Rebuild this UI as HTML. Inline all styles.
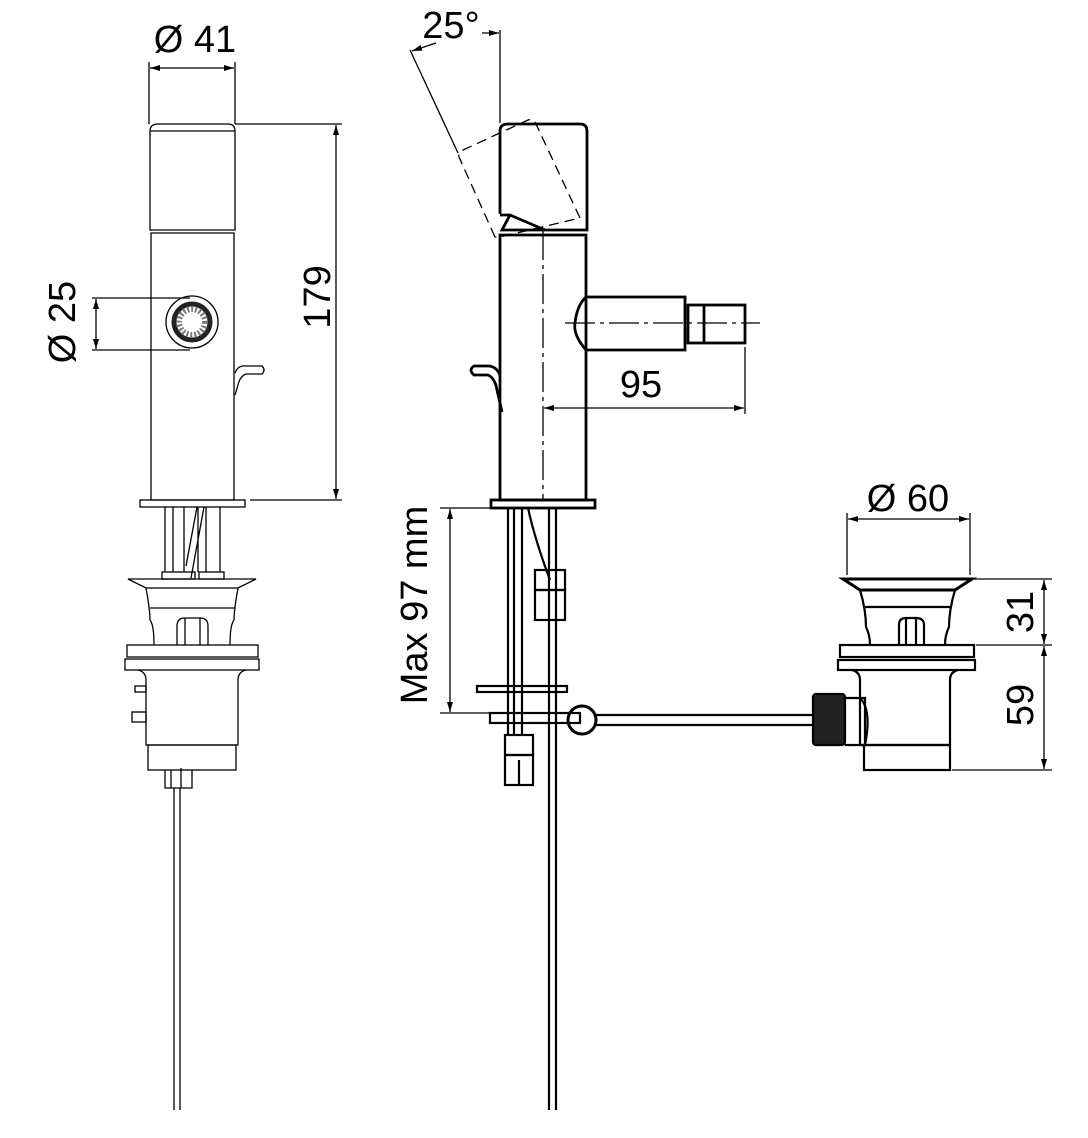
<!DOCTYPE html>
<html><head><meta charset="utf-8"><style>html,body{margin:0;padding:0;background:#fff}svg{display:block}</style></head>
<body>
<svg width="1088" height="1138" viewBox="0 0 1088 1138" xmlns="http://www.w3.org/2000/svg" font-family="Liberation Sans, sans-serif" fill="none" stroke="#000">
<defs>
<marker id="a" viewBox="0 0 10 6" refX="10" refY="3" markerWidth="16" markerHeight="6" markerUnits="userSpaceOnUse" orient="auto-start-reverse"><path d="M0,0L10,3L0,6z" fill="#000" stroke="none"/></marker>
</defs>
<g stroke-width="1.3">
<!-- LEFT VIEW -->
<line x1="149" y1="62" x2="149" y2="124"/><line x1="235" y1="62" x2="235" y2="124"/>
<line x1="150" y1="68" x2="234" y2="68" marker-start="url(#a)" marker-end="url(#a)"/>
<path d="M150,230V131Q150,124 158,124H228Q235,124 235,131V230Z"/><line x1="150" y1="131" x2="235" y2="131"/>
<path d="M151,233H234V500H151Z"/>
<line x1="235" y1="124" x2="342" y2="124"/><line x1="250" y1="500" x2="342" y2="500"/>
<line x1="336" y1="125" x2="336" y2="499" marker-start="url(#a)" marker-end="url(#a)"/>
<circle cx="192" cy="322" r="26"/><circle cx="192" cy="322" r="18" stroke-width="5" stroke="#222"/><circle cx="192" cy="322" r="13" stroke-dasharray="2 2" stroke-width="6" stroke="#777"/>
<line x1="92" y1="298" x2="190" y2="298"/><line x1="92" y1="350" x2="190" y2="350"/>
<line x1="96" y1="299" x2="96" y2="349" marker-start="url(#a)" marker-end="url(#a)"/>
<path d="M235,373 Q238,365 246,366 H262 Q266,370 262,374 H246 Q240,376 238,385 L235,395"/>
<rect x="140" y="500" width="105" height="7"/>
<path d="M165,507V572M173,507V572M184,507V572M198,507V572M206,507V572M220,507V572M186,566L197,507M191,578L204,507"/>
<rect x="162" y="572" width="33" height="7"/><rect x="199" y="572" width="25" height="7"/>
<path d="M128,579H256L238,588H146Z"/>
<path d="M146,588Q150,610 150,620Q154,625 154,645M238,588Q234,610 234,620Q230,625 230,645M150,608H235"/>
<path d="M177,645V626Q177,618 185,618H200Q208,618 208,626V645M185,618V645M200,618V645"/>
<rect x="127" y="645" width="131" height="12"/><rect x="125" y="659" width="134" height="11"/>
<path d="M138,670Q146,672 146,680V745H238V680Q238,672 246,670"/>
<rect x="148" y="745" width="88" height="25"/>
<rect x="135" y="686" width="11" height="6"/><rect x="132" y="712" width="14" height="10"/>
<path d="M165,770V788H192V770M171,770V788M181,768V788"/>
<path d="M174,788V1110M180,788V1110"/>
<text x="195" y="52" font-size="38" fill="#000" stroke="none" text-anchor="middle">Ø 41</text>
<text transform="translate(330,297) rotate(-90)" font-size="38" fill="#000" stroke="none" text-anchor="middle">179</text>
<text transform="translate(75,322) rotate(-90)" font-size="38" fill="#000" stroke="none" text-anchor="middle">Ø 25</text>
<!-- MIDDLE VIEW -->
<g stroke-width="2.8">
<path d="M500,214V131Q500,124 508,124H580Q587,124 587,131V230H545L510,215H500M510,215L502,230H545"/>
<path d="M500,235H586V500H500Z"/>
<path d="M586,297H685V350H586Q573,335 575,323Q577,305 586,297"/>
<rect x="688" y="305" width="57" height="38"/><line x1="704" y1="305" x2="704" y2="343"/>
<rect x="491" y="500" width="104" height="8"/>
<path d="M500,375 Q496,366 488,366 H474 Q468,370 474,375 H488 Q495,378 497,390 L502,412"/>
</g>
<path d="M495,237L459,157Q458,152 463,150L528,120Q534,118 536,124L580,218L500,237Z" stroke-dasharray="10 6"/>
<line x1="505" y1="230" x2="585" y2="230" stroke-dasharray="10 6"/>
<line x1="500" y1="30" x2="500" y2="123"/>
<line x1="482" y1="33" x2="499" y2="33" marker-end="url(#a)"/>
<line x1="410" y1="50" x2="458" y2="153"/>
<line x1="436" y1="43" x2="412" y2="51" marker-end="url(#a)"/>
<text x="451" y="38" font-size="38" fill="#000" stroke="none" text-anchor="middle">25°</text>
<line x1="543" y1="230" x2="543" y2="500" stroke-dasharray="30 5 4 5"/>
<line x1="565" y1="323" x2="760" y2="323" stroke-dasharray="30 5 4 5"/>
<line x1="745" y1="347" x2="745" y2="414"/>
<line x1="544" y1="408" x2="744" y2="408" marker-start="url(#a)" marker-end="url(#a)"/>
<text x="641" y="397" font-size="38" fill="#000" stroke="none" text-anchor="middle">95</text>
<g stroke-width="2.2">
<path d="M508,508V735M514,508V735M522,508V735M549,508V1110M556,508V1110"/>
<path d="M528,508Q535,540 550,580"/>
<rect x="535" y="570" width="30" height="20"/><rect x="535" y="590" width="30" height="30"/>
<rect x="477" y="686" width="90" height="6"/>
<rect x="490" y="713" width="90" height="10"/>
<circle cx="582" cy="720" r="14" stroke-width="3"/>
<path d="M596,715H820M596,725H820"/>
<rect x="813" y="694" width="32" height="51" rx="3" fill="#222"/>
<path d="M845,698H865V745H845"/>
<rect x="505" y="735" width="28" height="20"/><rect x="505" y="755" width="28" height="30"/><line x1="519" y1="760" x2="519" y2="785"/>
<path d="M843,579H972L955,590H860Z" stroke-width="3"/>
<path d="M860,590Q866,610 866,627Q870,635 870,645M955,590Q949,610 949,627Q945,635 945,645M864,607H952"/>
<path d="M899,645V625Q899,618 906,618H916Q924,618 924,625V645M906,618V645M916,618V645"/>
<rect x="840" y="645" width="134" height="12"/><rect x="838" y="660" width="137" height="10"/>
<path d="M852,670Q860,672 860,680V745H950V680Q950,672 958,670"/>
<path d="M860,698Q872,710 865,745"/>
<rect x="864" y="745" width="86" height="25"/>
</g>
<line x1="847" y1="513" x2="847" y2="575"/><line x1="970" y1="513" x2="970" y2="575"/>
<line x1="848" y1="519" x2="969" y2="519" marker-start="url(#a)" marker-end="url(#a)"/>
<text x="908" y="511" font-size="38" fill="#000" stroke="none" text-anchor="middle">Ø 60</text>
<line x1="972" y1="579" x2="1052" y2="579"/><line x1="976" y1="645" x2="1052" y2="645"/><line x1="952" y1="770" x2="1052" y2="770"/>
<line x1="1044" y1="580" x2="1044" y2="644" marker-start="url(#a)" marker-end="url(#a)"/>
<line x1="1044" y1="646" x2="1044" y2="769" marker-start="url(#a)" marker-end="url(#a)"/>
<text transform="translate(1033,612) rotate(-90)" font-size="38" fill="#000" stroke="none" text-anchor="middle">31</text>
<text transform="translate(1033,705) rotate(-90)" font-size="38" fill="#000" stroke="none" text-anchor="middle">59</text>
<line x1="440" y1="508" x2="490" y2="508"/><line x1="440" y1="713" x2="490" y2="713"/>
<line x1="450" y1="509" x2="450" y2="712" marker-start="url(#a)" marker-end="url(#a)"/>
<text transform="translate(427,605) rotate(-90)" font-size="38" fill="#000" stroke="none" text-anchor="middle">Max 97 mm</text>
</g>
</svg>
</body></html>
